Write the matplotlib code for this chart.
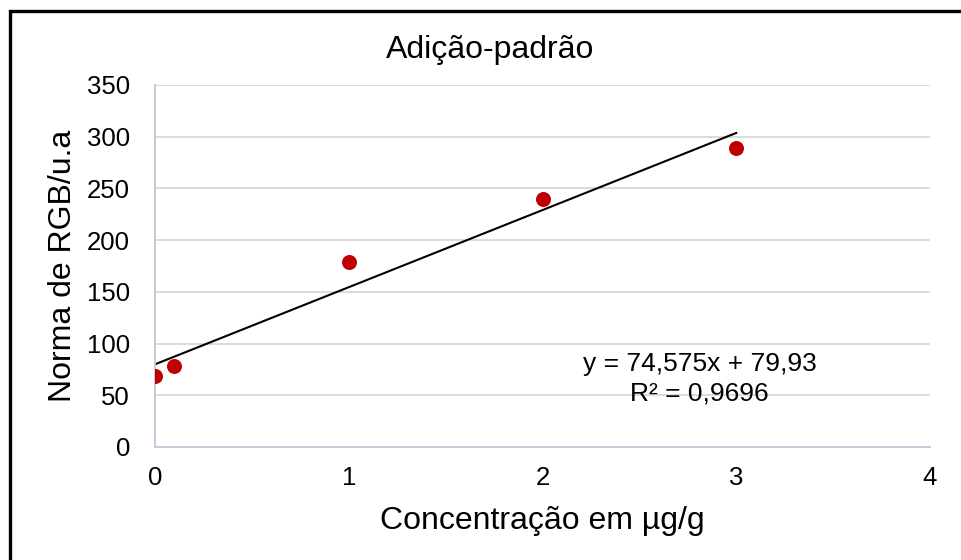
import matplotlib
matplotlib.use("Agg")
import matplotlib.pyplot as plt
from matplotlib.patches import Rectangle
import numpy as np

# data
conc = [0, 0.1, 1, 2, 3]
norma_rgb = [69, 78, 179, 240, 289]
slope, intercept = 74.575, 79.93
r2_text = "R² = 0,9696"
eq_text = "y = 74,575x + 79,93"
x_ticks = [0, 1, 2, 3, 4]
y_ticks = [0, 50, 100, 150, 200, 250, 300, 350]

plt.rcParams["font.family"] = ["Liberation Sans", "DejaVu Sans"]

W, H = 961, 560
fig = plt.figure(figsize=(W / 100, H / 100), dpi=100)
ax = fig.add_axes([155 / W, 1 - 447 / H, (930 - 155) / W, (447 - 85) / H])

# outer chart frame (right/bottom edges fall outside the image)
fig.patches.append(Rectangle((9.5 / W, 0 - 0.1), 2, (1 - 10.5 / H) + 0.1,
                             transform=fig.transFigure, fill=False,
                             edgecolor="black", linewidth=2.4))

ax.grid(axis="y", color="#D9D9D9", linewidth=1.3)
ax.set_axisbelow(True)

xs = np.array([0, 3])
ax.plot(xs, slope * xs + intercept, color="black", linewidth=1.5, zorder=2)
ax.plot(conc, norma_rgb, "o", color="#C00000", markersize=10.8,
        markeredgewidth=0, zorder=3)

ax.set_xlim(0, 4)
ax.set_ylim(0, 350)
ax.set_xticks(x_ticks)
ax.set_yticks(y_ticks)
ax.tick_params(length=0, labelsize=18.5)
ax.tick_params(axis="y", pad=18)
ax.tick_params(axis="x", pad=14)

for s in ["top", "right"]:
    ax.spines[s].set_visible(False)
for s in ["left", "bottom"]:
    ax.spines[s].set_color("#BFC8D8")
    ax.spines[s].set_linewidth(1.3)

ax.text(2.81, 80, eq_text, ha="center", va="center", fontsize=19)
ax.text(2.81, 52, r2_text, ha="center", va="center", fontsize=19)

fig.text(490 / W, 1 - 50 / H, "Adição-padrão", ha="center", va="center", fontsize=23)
fig.text(542 / W, 1 - 521 / H, "Concentração em µg/g", ha="center", va="center", fontsize=23)
fig.text(63 / W, 1 - 266 / H, "Norma de RGB/u.a", ha="center", va="center",
         rotation=90, fontsize=23)

fig.savefig("out.png", dpi=100)
